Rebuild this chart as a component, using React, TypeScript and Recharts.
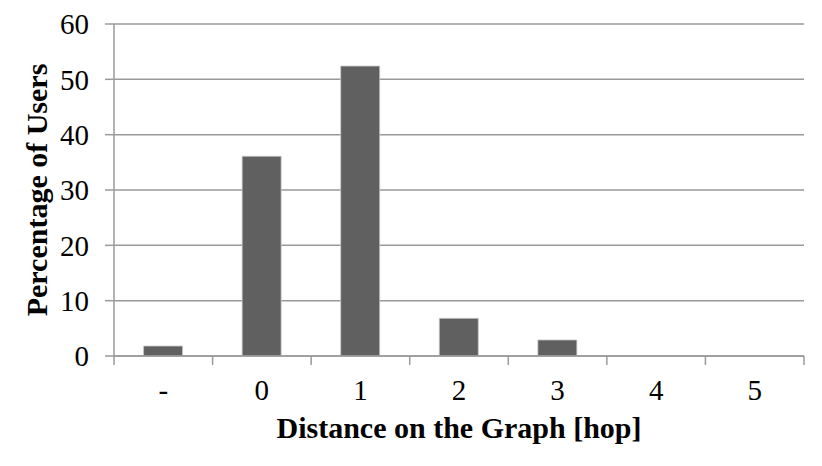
import { BarChart, Bar, XAxis, YAxis, CartesianGrid } from 'recharts'

const hops = ['-', '0', '1', '2', '3', '4', '5']
const users = [1.8, 36.1, 52.4, 6.8, 2.9, 0, 0]
const yTicks = [0, 10, 20, 30, 40, 50, 60]

const data = hops.map((h, i) => ({ hop: h, users: users[i] }))

const FONT = '"Liberation Serif", "Times New Roman", serif'
const GRID = '#9a9a9a'
const BAND = (822 - 114 - 18) / hops.length

// tick lines sit on category boundaries, not centres
function HopTick(props: any) {
  const { x, y, payload, index } = props
  const top = y - 9
  return (
    <g>
      <line x1={x - BAND / 2} y1={top} x2={x - BAND / 2} y2={y} stroke={GRID} strokeWidth={1.5} />
      {index === hops.length - 1 && (
        <line x1={x + BAND / 2} y1={top} x2={x + BAND / 2} y2={y} stroke={GRID} strokeWidth={1.5} />
      )}
      <text x={x} y={y + 35} textAnchor="middle" fontFamily={FONT} fontSize={29} fill="#000">
        {payload.value}
      </text>
    </g>
  )
}

export default function App() {
  return (
    <div style={{ position: 'absolute', left: 0, top: 0, background: '#fff' }}>
      <BarChart
        width={822}
        height={466}
        data={data}
        margin={{ top: 24, right: 18, left: 0, bottom: 10 }}
        barCategoryGap="30%"
      >
        <CartesianGrid vertical={false} stroke={GRID} strokeWidth={1.5} />
        <XAxis
          dataKey="hop"
          height={100}
          stroke={GRID}
          strokeWidth={1.5}
          tickLine={false}
          tickSize={9}
          tickMargin={0}
          tick={<HopTick />}
          interval={0}
          label={{
            value: 'Distance on the Graph [hop]',
            position: 'insideBottom',
            offset: 18,
            style: { fontFamily: FONT, fontSize: 30, fontWeight: 'bold', fill: '#000' },
          }}
        />
        <YAxis
          width={114}
          domain={[0, 60]}
          ticks={yTicks}
          stroke={GRID}
          strokeWidth={1.5}
          tickSize={9}
          tickMargin={16}
          tick={{ fontFamily: FONT, fontSize: 29, fill: '#000' }}
          label={{
            value: 'Percentage of Users',
            angle: -90,
            position: 'insideLeft',
            offset: 36,
            style: { textAnchor: 'middle', fontFamily: FONT, fontSize: 30, fontWeight: 'bold', fill: '#000' },
          }}
        />
        <Bar dataKey="users" fill="#606060" stroke="#c8c8c8" strokeWidth={0.8} isAnimationActive={false} />
      </BarChart>
    </div>
  )
}
